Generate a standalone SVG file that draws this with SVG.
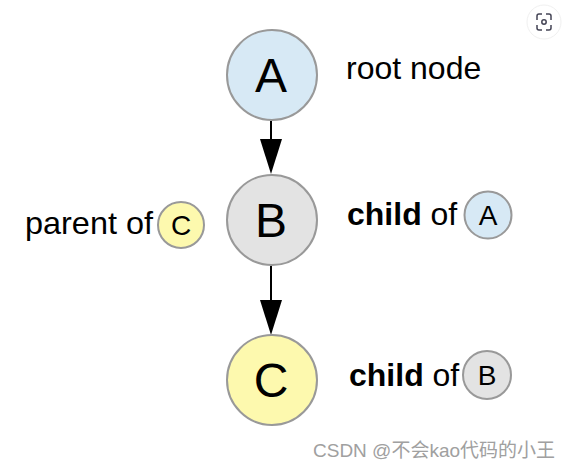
<svg xmlns="http://www.w3.org/2000/svg" width="571" height="469" viewBox="0 0 571 469">
<style>
  .lbl { font-family: "Liberation Sans", Arial, sans-serif; fill: #000; }
  .big { font-size: 48px; text-anchor: middle; }
  .small { font-size: 28px; text-anchor: middle; }
  .txt { font-size: 32px; }
  .bold { font-weight: bold; }
  .n { stroke: #999; stroke-width: 2; }
  .a { fill: #d7e9f5; }
  .b { fill: #e3e3e3; }
  .c { fill: #fdf9ae; }
  .edge { stroke: #000; stroke-width: 2; fill: none; }
  .head { fill: #000; }
</style>
<rect width="571" height="469" fill="#fff"/>
<g id="connectors">
  <line class="edge" x1="271" y1="121" x2="271" y2="140"/>
  <path class="head" d="M260,139 L282,139 L271,174 Z"/>
  <line class="edge" x1="271" y1="266" x2="271" y2="301"/>
  <path class="head" d="M260,300 L282,300 L271,335 Z"/>
</g>
<g id="node-A">
  <circle class="n a" cx="272" cy="75" r="45"/>
  <text class="lbl big" x="271" y="92">A</text>
</g>
<g id="node-B">
  <circle class="n b" cx="272" cy="220" r="45"/>
  <text class="lbl big" x="271" y="237">B</text>
</g>
<g id="node-C">
  <circle class="n c" cx="272" cy="380" r="45"/>
  <text class="lbl big" x="271" y="397">C</text>
</g>
<g id="label-root">
  <text class="lbl txt" x="346" y="79">root node</text>
</g>
<g id="label-childA">
  <text class="lbl txt" x="347" y="225"><tspan class="bold">child</tspan> of</text>
  <circle class="n a" cx="488" cy="215" r="23.5"/>
  <text class="lbl small" x="488" y="225">A</text>
</g>
<g id="label-parentC">
  <text class="lbl txt" x="25" y="234" textLength="128" lengthAdjust="spacingAndGlyphs">parent of</text>
  <circle class="n c" cx="181" cy="225" r="23"/>
  <text class="lbl small" x="181" y="235">C</text>
</g>
<g id="label-childB">
  <text class="lbl txt" x="349" y="386"><tspan class="bold">child</tspan> of</text>
  <circle class="n b" cx="487" cy="375" r="24"/>
  <text class="lbl small" x="487" y="385">B</text>
</g>
<g id="scan-icon">
  <circle cx="544" cy="22" r="17" fill="#fff" stroke="#f0f0f0" stroke-width="1"/>
  <path d="M537,20 v-4 a2,2 0 0 1 2,-2 h3 M546,14 h3 a2,2 0 0 1 2,2 v4 M551,25 v3 a2,2 0 0 1 -2,2 h-3 M542,30 h-3 a2,2 0 0 1 -2,-2 v-3" fill="none" stroke="#445" stroke-width="1.5"/>
  <circle cx="544" cy="22" r="2.2" fill="none" stroke="#445" stroke-width="1.5"/>
</g>
<g id="watermark">
  <text x="313" y="457" font-family="'Liberation Sans', 'Noto Sans CJK SC', sans-serif" font-size="19" fill="#a0a0a0">CSDN @不会kao代码的小王</text>
</g>
</svg>
